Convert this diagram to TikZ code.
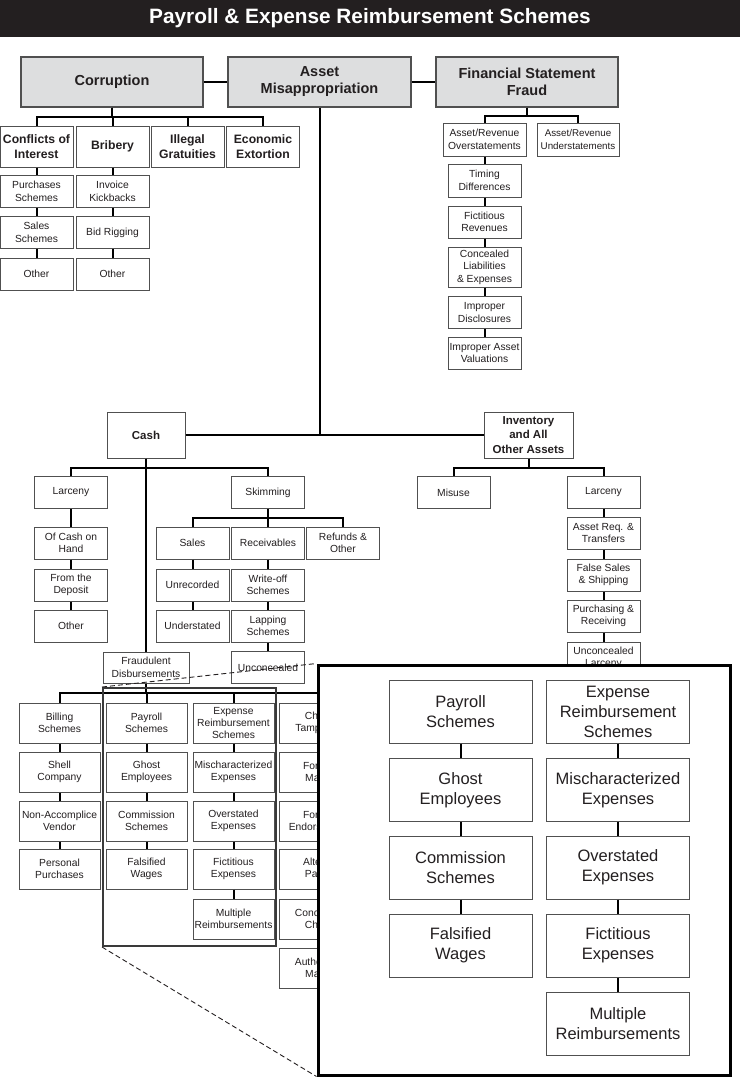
\documentclass[tikz,border=0pt]{standalone}
\usepackage{fontspec}
\setmainfont{Liberation Sans}
\definecolor{ink}{RGB}{35,31,32}
\definecolor{panel}{RGB}{221,222,223}
\definecolor{edgegrey}{RGB}{80,80,80}
\definecolor{framegrey}{RGB}{58,58,58}

\begin{document}
\begin{tikzpicture}[x=1pt, y=-1pt,
    banner/.style={fill=ink, text=white, font=\fontsize{20.8}{24}\selectfont\bfseries,
                   minimum width=740, minimum height=37, inner sep=0pt},
    grp/.style={draw=edgegrey, fill=panel, line width=1.1pt, text=ink,
                font=\fontsize{14.5}{17}\selectfont\bfseries, align=center,
                minimum width=182, minimum height=50, inner sep=1pt},
    cat/.style={draw=edgegrey, fill=white, line width=1pt, text=ink,
                font=\fontsize{12.2}{15}\selectfont\bfseries, align=center,
                minimum width=73, minimum height=41, inner sep=0.5pt},
    leaf/.style={draw=edgegrey, fill=white, line width=1pt, text=ink,
                 font=\fontsize{10.3}{12.4}\selectfont, align=center,
                 minimum width=73, minimum height=32, inner sep=0.5pt},
    hub/.style={leaf, font=\fontsize{11.5}{14.5}\selectfont\bfseries, minimum height=46},
    pay/.style={leaf, minimum width=81, minimum height=40},
    big/.style={leaf, font=\fontsize{16.5}{20}\selectfont, minimum width=143, minimum height=63},
    link/.style={draw=black, line width=2pt},
    lens/.style={draw=framegrey, line width=2pt, minimum width=173, minimum height=258, inner sep=0pt},
    lead/.style={draw=ink, line width=0.9pt, dash pattern=on 5pt off 3pt},
    zoombox/.style={draw=black, fill=white, line width=3pt, minimum width=412, minimum height=410, inner sep=0pt}
  ]
  \useasboundingbox (0,0) rectangle (740,1077);
  \node[banner] (title) at (370,18.5) {Payroll \& Expense Reimbursement Schemes};

  % top level
  \node[grp] (corr) at (112,82) {Corruption};
  \node[grp, minimum width=183] (am) at (319.5,82) {Asset\\Misappropriation};
  \node[grp] (fsf) at (527,82) {Financial Statement\\Fraud};
  \draw[link] (corr.east) -- (am.west);
  \draw[link] (am.east) -- (fsf.west);

  % corruption
  \node[cat] (coi) at (36.5,146.5) {Conflicts of\\Interest};
  \node[cat] (brib) at (112.5,146.5) {Bribery};
  \node[cat] (illg) at (187.5,146.5) {Illegal\\Gratuities};
  \node[cat] (ecox) at (263,146.5) {Economic\\Extortion};
  \foreach \c in {coi,brib,illg,ecox}
    \draw[link] (corr.south) -- ++(0,9) -| (\c.north);
  \node[leaf] (cpur) at (36.5,191.5) {Purchases\\Schemes};
  \node[leaf] (csal) at (36.5,232.5) {Sales\\Schemes};
  \node[leaf] (coth) at (36.5,274) {Other};
  \node[leaf] (binv) at (112.5,191.5) {Invoice\\Kickbacks};
  \node[leaf] (bbid) at (112.5,232.5) {Bid Rigging};
  \node[leaf] (both) at (112.5,274) {Other};
  \foreach \a/\b in {coi/cpur, cpur/csal, csal/coth, brib/binv, binv/bbid, bbid/both}
    \draw[link] (\a.south) -- (\b.north);

  % financial statement fraud
  \node[leaf, minimum width=83, minimum height=33] (ovst) at (484.5,139.5) {Asset/Revenue\\Overstatements};
  \node[leaf, minimum width=82, minimum height=33, font=\fontsize{9.8}{12.4}\selectfont] (unst) at (578,139.5) {Asset/Revenue\\Understatements};
  \foreach \c in {ovst,unst}
    \draw[link] (fsf.south) -- ++(0,8) -| (\c.north);
  \node[leaf, minimum height=33] (timdiff) at (484.5,180.5) {Timing\\Differences};
  \node[leaf] (fictrev) at (484.5,222) {Fictitious\\Revenues};
  \node[leaf, minimum height=40] (conclia) at (484.5,267) {Concealed\\Liabilities\\\& Expenses};
  \node[leaf] (impdisc) at (484.5,312.5) {Improper\\Disclosures};
  \node[leaf] (impval) at (484.5,353) {Improper Asset\\Valuations};
  \foreach \a/\b in {ovst/timdiff, timdiff/fictrev, fictrev/conclia, conclia/impdisc, impdisc/impval}
    \draw[link] (\a.south) -- (\b.north);

  % asset misappropriation
  \node[hub, minimum width=78] (cash) at (146,435) {Cash};
  \node[hub, minimum width=89] (inv) at (528.5,435) {Inventory\\and All\\Other Assets};
  \draw[link] (cash.east) -- (inv.west);
  \draw[link] (am.south) -- (am.south |- cash.east);

  % cash
  \node[leaf] (clar) at (71,492.5) {Larceny};
  \node[leaf] (skim) at (268,492.5) {Skimming};
  \foreach \c in {clar,skim}
    \draw[link] (cash.south) -- ++(0,9) -| (\c.north);
  \node[leaf] (lhand) at (71,543) {Of Cash on\\Hand};
  \node[leaf] (ldep) at (71,585) {From the\\Deposit};
  \node[leaf] (loth) at (71,626) {Other};
  \node[leaf] (ssal) at (192.5,543) {Sales};
  \node[leaf] (srec) at (268,543) {Receivables};
  \node[leaf] (sref) at (343,543) {Refunds \&\\Other};
  \foreach \c in {ssal,srec,sref}
    \draw[link] (skim.south) -- ++(0,9) -| (\c.north);
  \node[leaf] (sunrec) at (192.5,585) {Unrecorded};
  \node[leaf] (sunder) at (192.5,626) {Understated};
  \node[leaf] (swrite) at (268,585) {Write-off\\Schemes};
  \node[leaf] (slap) at (268,626) {Lapping\\Schemes};
  \node[leaf] (suncon) at (268,667.5) {Unconcealed};
  \foreach \a/\b in {clar/lhand, lhand/ldep, ldep/loth, ssal/sunrec, sunrec/sunder,
                     srec/swrite, swrite/slap, slap/suncon}
    \draw[link] (\a.south) -- (\b.north);

  % inventory
  \node[leaf] (misuse) at (453.5,492.5) {Misuse};
  \node[leaf] (ilar) at (603.5,492.5) {Larceny};
  \foreach \c in {misuse,ilar}
    \draw[link] (inv.south) -- ++(0,9) -| (\c.north);
  \node[leaf] (ireq) at (603.5,533) {Asset Req. \&\\Transfers};
  \node[leaf] (isal) at (603.5,575) {False Sales\\\& Shipping};
  \node[leaf] (ipur) at (603.5,616) {Purchasing \&\\Receiving};
  \node[leaf] (iunc) at (603.5,658) {Unconcealed\\Larceny};
  \foreach \a/\b in {ilar/ireq, ireq/isal, isal/ipur, ipur/iunc}
    \draw[link] (\a.south) -- (\b.north);

  % fraudulent disbursements
  \node[leaf, minimum width=86, minimum height=31] (fdisb) at (146,667.5) {Fraudulent\\Disbursements};
  \draw[link] (cash.south) -- (fdisb.north);
  \node[pay] (bill) at (59.5,723) {Billing\\Schemes};
  \node[pay] (pay) at (146.5,723) {Payroll\\Schemes};
  \node[pay, font=\fontsize{10.3}{12.3}\selectfont] (exp) at (233.5,723) {Expense\\Reimbursement\\Schemes};
  \node[pay] (chk) at (319.5,723) {Check\\Tampering};
  \foreach \c in {bill,pay,exp,chk}
    \draw[link] (fdisb.south) -- ++(0,9) -| (\c.north);
  \node[pay] (bshell) at (59.5,772) {Shell\\Company};
  \node[pay] (bnon) at (59.5,821) {Non-Accomplice\\Vendor};
  \node[pay] (bpers) at (59.5,869) {Personal\\Purchases};
  \node[pay] (pghost) at (146.5,772) {Ghost\\Employees};
  \node[pay] (pcomm) at (146.5,821) {Commission\\Schemes};
  \node[pay] (pfals) at (146.5,869) {Falsified\\Wages};
  \node[pay] (emis) at (233.5,772) {Mischaracterized\\Expenses};
  \node[pay] (eover) at (233.5,821) {Overstated\\Expenses};
  \node[pay] (efict) at (233.5,869) {Fictitious\\Expenses};
  \node[pay] (emult) at (233.5,919) {Multiple\\Reimbursements};
  \node[pay] (kmak) at (319.5,772) {Forged\\Maker};
  \node[pay] (kend) at (319.5,821) {Forged\\Endorsement};
  \node[pay] (kalt) at (319.5,869) {Altered\\Payee};
  \node[pay] (kcon) at (319.5,919) {Concealed\\Check};
  \node[pay] (kaut) at (319.5,968) {Authorized\\Maker};
  \foreach \a/\b in {bill/bshell, bshell/bnon, bnon/bpers, pay/pghost, pghost/pcomm, pcomm/pfals,
                     exp/emis, emis/eover, eover/efict, efict/emult,
                     chk/kmak, kmak/kend, kend/kalt, kalt/kcon, kcon/kaut}
    \draw[link] (\a.south) -- (\b.north);

  % enlarged part
  \node[lens] (lens) at (189.5,817) {};
  \node[zoombox] (inset) at (524,870) {};
  \draw[lead] (lens.north west) -- (inset.north west);
  \draw[lead] (lens.south west) -- (inset.south west);
  \node[zoombox, fill=none] (insetrim) at (524,870) {};
  \node[big] (zpay) at (460.5,711.5) {Payroll\\Schemes};
  \node[big] (zghost) at (460.5,790) {Ghost\\Employees};
  \node[big] (zcomm) at (460.5,867.5) {Commission\\Schemes};
  \node[big] (zfals) at (460.5,945.5) {Falsified\\Wages};
  \node[big] (zexp) at (618,711.5) {Expense\\Reimbursement\\Schemes};
  \node[big] (zmis) at (618,790) {Mischaracterized\\Expenses};
  \node[big] (zover) at (618,867.5) {Overstated\\Expenses};
  \node[big] (zfict) at (618,945.5) {Fictitious\\Expenses};
  \node[big] (zmult) at (618,1024) {Multiple\\Reimbursements};
  \foreach \a/\b in {zpay/zghost, zghost/zcomm, zcomm/zfals,
                     zexp/zmis, zmis/zover, zover/zfict, zfict/zmult}
    \draw[link] (\a.south) -- (\b.north);
\end{tikzpicture}
\end{document}
